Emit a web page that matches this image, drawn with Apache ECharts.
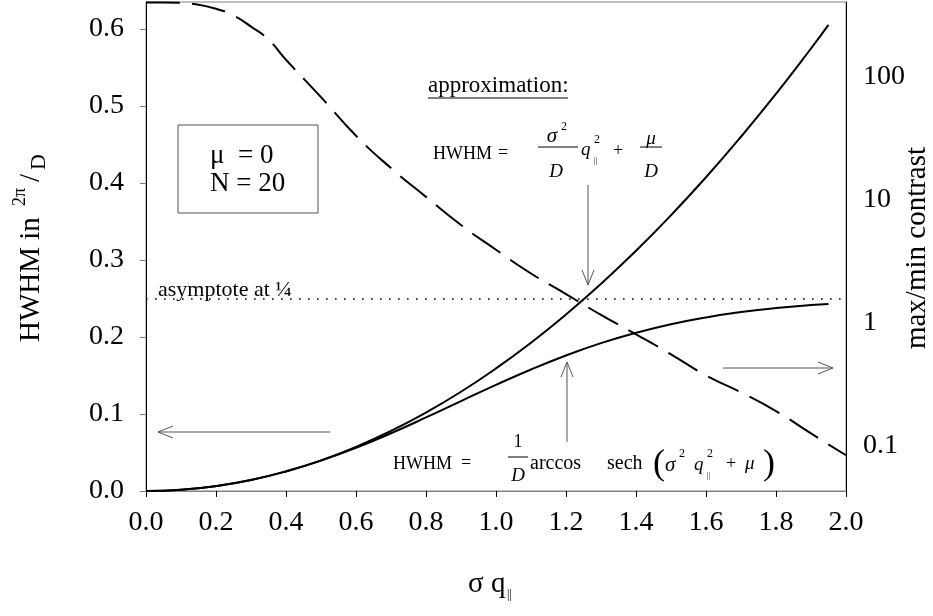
<!DOCTYPE html>
<html>
<head>
<meta charset="utf-8">
<script src="https://cdn.jsdelivr.net/npm/echarts@6/dist/echarts.min.js"></script>
<style>
  html, body { margin: 0; padding: 0; background: #fff; }
  #chart { width: 933px; height: 616px; }
</style>
</head>
<body>
<div id="chart"></div>
<script>
// sigma*q_par sample positions for the two HWHM curves
const sigmaQ = [0, 0.1, 0.2, 0.3, 0.4, 0.5, 0.6, 0.7, 0.8, 0.9, 1.0,
                1.1, 1.2, 1.3, 1.4, 1.5, 1.6, 1.7, 1.8, 1.9, 1.95];
// HWHM in units of 2pi/D, quadratic approximation
const hwhmApprox = [0, 0.0016, 0.0064, 0.0143, 0.0255, 0.0398, 0.0573, 0.0780, 0.1019, 0.1289, 0.1592,
                    0.1926, 0.2292, 0.2690, 0.3119, 0.3581, 0.4074, 0.4600, 0.5157, 0.5746, 0.6052];
// HWHM in units of 2pi/D, full arccos-sech expression
const hwhmExact = [0, 0.0016, 0.0064, 0.0143, 0.0254, 0.0394, 0.0561, 0.0750, 0.0955, 0.1168, 0.1378,
                   0.1578, 0.1760, 0.1920, 0.2054, 0.2166, 0.2254, 0.2323, 0.2376, 0.2414, 0.2429];
// max/min contrast (right, logarithmic axis)
const contrastX = [0, 0.05, 0.1, 0.13, 0.2, 0.25, 0.3, 0.35, 0.4, 0.5, 0.6, 0.7, 0.8, 0.9, 1.0,
                   1.1, 1.2, 1.3, 1.4, 1.5, 1.6, 1.7, 1.8, 1.9, 2.0];
const contrastVal = [400, 400, 398, 392, 356, 313, 255, 200, 137, 68, 33, 18, 10.5, 6.2, 3.9,
                     2.5, 1.7, 1.15, 0.8, 0.55, 0.37, 0.27, 0.19, 0.125, 0.083];
const asymptoteLevel = 0.25;
const xTicks = [0, 0.2, 0.4, 0.6, 0.8, 1.0, 1.2, 1.4, 1.6, 1.8, 2.0];
const rightTickLabels = ['0.1', '1', '10', '100'];

const SERIF = '"Liberation Serif", "Times New Roman", serif';
const zip = (xs, ys) => xs.map((x, i) => [x, ys[i]]);

function txt(x, y, s, size, opt) {
  opt = opt || {};
  return {
    type: 'text', x: x, y: y, silent: true,
    style: {
      text: s,
      font: (opt.italic ? 'italic ' : '') + size + 'px ' + SERIF,
      fill: '#000',
      textAlign: opt.align || 'left', align: opt.align || 'left',
      textVerticalAlign: 'middle', verticalAlign: 'middle'
    }
  };
}
function seg(x1, y1, x2, y2, color, w) {
  return { type: 'line', silent: true, shape: { x1: x1, y1: y1, x2: x2, y2: y2 },
           style: { stroke: color || '#000', lineWidth: w || 1 } };
}
function arrow(x1, y1, x2, y2) {
  const ang = Math.atan2(y2 - y1, x2 - x1), L = 15, H = 6;
  const bx = x2 - L * Math.cos(ang), by = y2 - L * Math.sin(ang);
  const px = -Math.sin(ang) * H, py = Math.cos(ang) * H;
  return {
    type: 'group', silent: true, children: [
      seg(x1, y1, x2, y2, '#555', 1),
      { type: 'polyline', silent: true,
        shape: { points: [[bx + px, by + py], [x2, y2], [bx - px, by - py]] },
        style: { stroke: '#555', lineWidth: 1, fill: null } }
    ]
  };
}

const chart = echarts.init(document.getElementById('chart'), null, { renderer: 'canvas' });

const graphics = [
  // left axis title: HWHM in 2pi/D
  { type: 'group', x: 31, y: 342, rotation: Math.PI / 2, silent: true, children: [
      txt(0, 0, 'HWHM in', 29),
      txt(136, -11, '2π', 18),
      txt(160, 0, '/', 29),
      txt(172, 8, 'D', 22)
  ] },
  // right axis title
  { type: 'group', x: 917, y: 248, rotation: Math.PI / 2, silent: true, children: [
      txt(0, 0, 'max/min contrast', 29, { align: 'center' })
  ] },
  // x axis title
  txt(468, 584, 'σ q', 29),
  txt(507, 595, '||', 12),

  // parameter box
  { type: 'rect', silent: true, shape: { x: 178, y: 125, width: 140, height: 88 },
    style: { stroke: '#555', lineWidth: 1, fill: null } },
  txt(210, 156, 'μ  = 0', 27),
  txt(210, 184, 'N = 20', 27),

  // approximation label and formula
  txt(428, 86, 'approximation:', 23),
  seg(428, 98, 568, 98, '#000', 1),
  txt(433, 154, 'HWHM', 18),
  txt(503, 153, '=', 18, { align: 'center' }),
  txt(552, 136, 'σ', 21, { italic: true, align: 'center' }),
  txt(561, 127, '2', 12),
  seg(538, 147, 578, 147, '#000', 1),
  txt(556, 172, 'D', 19, { italic: true, align: 'center' }),
  txt(581, 150, 'q', 19, { italic: true }),
  txt(594, 161, '||', 8),
  txt(594, 140, '2', 12),
  txt(618, 151, '+', 18, { align: 'center' }),
  txt(651, 139, 'μ', 19, { italic: true, align: 'center' }),
  seg(640, 147, 662, 147, '#000', 1),
  txt(651, 172, 'D', 19, { italic: true, align: 'center' }),

  // full expression formula
  txt(393, 464, 'HWHM', 18),
  txt(466, 463, '=', 18, { align: 'center' }),
  txt(518, 442, '1', 18, { align: 'center' }),
  seg(508, 457, 528, 457, '#000', 1),
  txt(518, 476, 'D', 19, { italic: true, align: 'center' }),
  txt(530, 464, 'arccos', 20),
  txt(607, 464, 'sech', 20),
  txt(653, 465, '(', 36),
  txt(665, 465, 'σ', 21, { italic: true }),
  txt(679, 454, '2', 12),
  txt(694, 465, 'q', 19, { italic: true }),
  txt(707, 476, '||', 8),
  txt(707, 454, '2', 12),
  txt(731, 464, '+', 18, { align: 'center' }),
  txt(745, 464, 'μ', 19, { italic: true }),
  txt(763, 465, ')', 36),

  // asymptote label
  txt(158, 290, 'asymptote at ¼', 22),

  // arrows
  arrow(588, 185, 588, 285),
  arrow(567, 442, 567, 362),
  arrow(330, 432, 158, 432),
  arrow(723, 368, 833, 368)
];

chart.setOption({
  animation: false,
  backgroundColor: '#fff',
  grid: { left: 146, right: 87, top: 2, bottom: 125, show: true,
          borderColor: '#808080', borderWidth: 1, containLabel: false, outerBoundsMode: 'none' },
  xAxis: {
    type: 'value', min: xTicks[0], max: xTicks[xTicks.length - 1], interval: 0.2,
    axisLine: { lineStyle: { color: '#808080', width: 1 } },
    axisTick: { inside: false, length: 6, lineStyle: { color: '#000' } },
    axisLabel: { formatter: v => v.toFixed(1), fontSize: 28, fontFamily: SERIF, color: '#000', margin: 18 },
    splitLine: { show: false }
  },
  yAxis: [
    {
      type: 'value', min: 0, max: 0.635, interval: 0.1,
      axisLine: { show: true, lineStyle: { color: '#000', width: 1 } },
      axisTick: { inside: false, length: 6, lineStyle: { color: '#808080' } },
      axisLabel: {
        formatter: v => (Math.abs(v * 10 - Math.round(v * 10)) < 1e-6 ? v.toFixed(1) : ''),
        showMaxLabel: false, fontSize: 28, fontFamily: SERIF, color: '#000', margin: 22
      },
      splitLine: { show: false }
    },
    {
      type: 'log', logBase: 10, min: 0.0425, max: 404, position: 'right',
      axisLine: { show: true, lineStyle: { color: '#000', width: 1 } },
      axisTick: { show: false },
      axisLabel: {
        formatter: v => {
          const s = String(+v.toPrecision(6));
          return rightTickLabels.indexOf(s) >= 0 ? s : '';
        },
        fontSize: 28, fontFamily: SERIF, color: '#000', margin: 17
      },
      splitLine: { show: false }
    }
  ],
  series: [
    {
      type: 'line', yAxisIndex: 0, data: zip(sigmaQ, hwhmApprox), smooth: true,
      showSymbol: false, symbol: 'none', lineStyle: { color: '#000', width: 2 }, silent: true
    },
    {
      type: 'line', yAxisIndex: 0, data: zip(sigmaQ, hwhmExact), smooth: true,
      showSymbol: false, symbol: 'none', lineStyle: { color: '#000', width: 2 }, silent: true,
      markLine: {
        silent: true, symbol: ['none', 'none'], label: { show: false },
        lineStyle: { color: '#000', type: [1.6, 7.4], width: 1.6 },
        data: [{ yAxis: asymptoteLevel }]
      }
    },
    {
      type: 'line', yAxisIndex: 1, data: zip(contrastX, contrastVal), smooth: true,
      showSymbol: false, symbol: 'none', lineStyle: { color: '#000', width: 2, type: [34, 12] }, silent: true
    }
  ],
  graphic: graphics
});
</script>
</body>
</html>
